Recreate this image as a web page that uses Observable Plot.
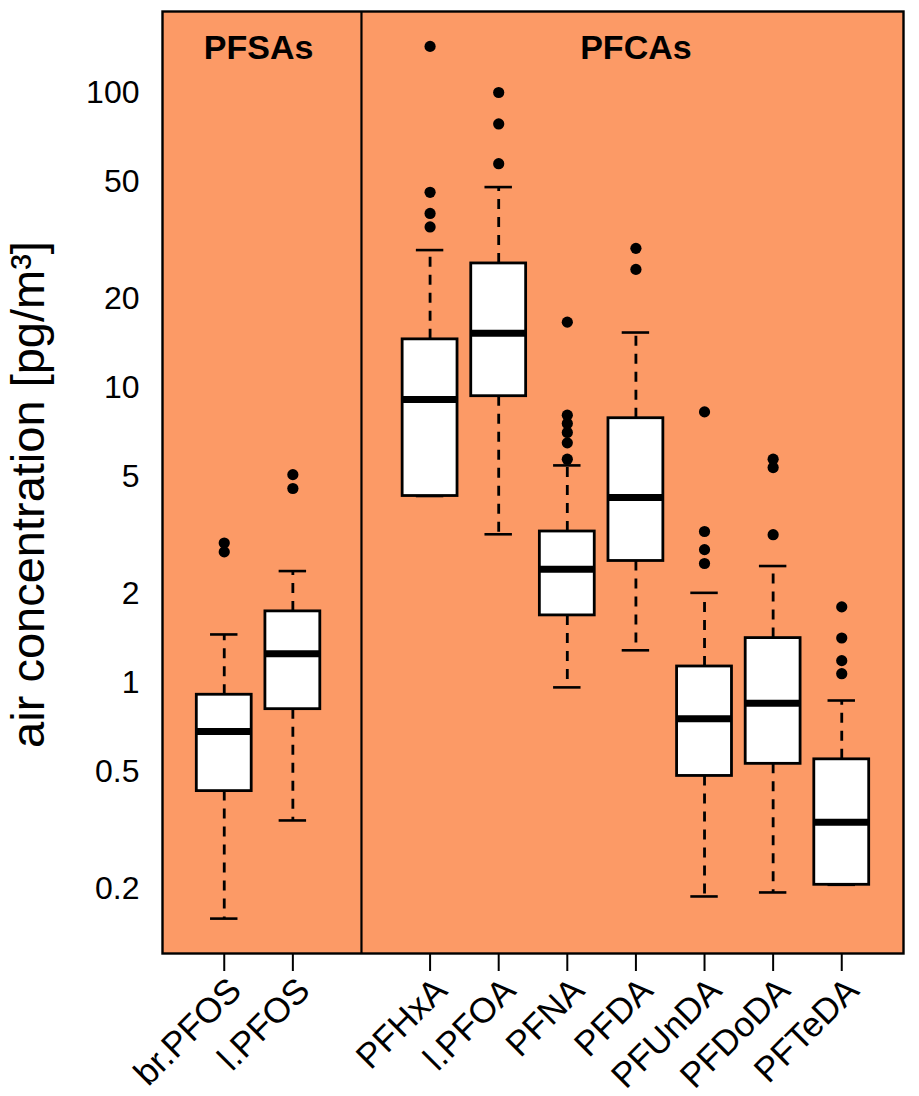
<!DOCTYPE html>
<html>
<head>
<meta charset="utf-8">
<script src="https://cdn.jsdelivr.net/npm/d3@7"></script>
<script src="https://cdn.jsdelivr.net/npm/@observablehq/plot@0.6"></script>
<style>
  html, body { margin: 0; padding: 0; background: white; }
</style>
</head>
<body>
<div id="chart"></div>
<script>
// ---- data ----
const compounds     = ["br.PFOS", "l.PFOS", "PFHxA", "l.PFOA", "PFNA", "PFDA", "PFUnDA", "PFDoDA", "PFTeDA"];
const compoundGroup = ["PFSAs", "PFSAs", "PFCAs", "PFCAs", "PFCAs", "PFCAs", "PFCAs", "PFCAs", "PFCAs"];
const groupNames    = ["PFSAs", "PFCAs"];
const whiskerLow    = [0.159, 0.342, 4.30, 3.19, 0.966, 1.29, 0.189, 0.195, 0.207];
const quart1        = [0.430, 0.815, 4.30, 9.37, 1.694, 2.59, 0.484, 0.532, 0.207];
const medians       = [0.685, 1.256, 9.13, 15.3, 2.43, 4.25, 0.756, 0.854, 0.337];
const quart3        = [0.912, 1.748, 14.6, 26.4, 3.26, 7.89, 1.137, 1.419, 0.551];
const whiskerHigh   = [1.46, 2.394, 29.3, 47.9, 5.46, 15.4, 2.02, 2.49, 0.872];
const outliers      = [
  [2.98, 2.78],
  [5.08, 4.56],
  [143.6, 46.0, 39.0, 35.1],
  [100.2, 78.4, 57.5],
  [16.7, 8.08, 7.57, 7.06, 6.51, 5.73],
  [29.7, 25.2],
  [8.29, 3.26, 2.83, 2.54],
  [5.73, 5.37, 3.18],
  [1.81, 1.42, 1.19, 1.075]
];
const yTicks = [0.2, 0.5, 1, 2, 5, 10, 20, 50, 100];
const yLabel = "air concentration [pg/m³]";

// ---- layout: slots with one empty slot between groups ----
const slot = [];
let s = 0;
compounds.forEach((c, i) => {
  if (i > 0 && compoundGroup[i] !== compoundGroup[i - 1]) s += 1;
  s += 1;
  slot.push(s);
});
const nSlots = s;
const dividers = [];
compounds.forEach((c, i) => {
  if (i > 0 && compoundGroup[i] !== compoundGroup[i - 1]) dividers.push(slot[i] - 1);
});
const groupCenters = groupNames.map(g => ({
  name: g,
  pos: d3.mean(compounds.map((c, i) => compoundGroup[i] === g ? slot[i] : null).filter(v => v != null))
}));

const boxes = compounds.map((c, i) => ({
  name: c, pos: slot[i], lo: whiskerLow[i], q1: quart1[i], med: medians[i], q3: quart3[i], hi: whiskerHigh[i]
}));
const outlierData = compounds.flatMap((c, i) => outliers[i].map(v => ({pos: slot[i], v})));

// R-like 4% axis extension
const allVals = [...whiskerLow, ...whiskerHigh, ...outliers.flat()];
const lmin = Math.log10(d3.min(allVals)), lmax = Math.log10(d3.max(allVals));
const ext = (lmax - lmin) * 0.04;
const yDomain = [Math.pow(10, lmin - ext), Math.pow(10, lmax + ext)];
const xExt = (nSlots) * 0.04;
const xDomain = [0.5 - xExt, nSlots + 0.5 + xExt];

const bw = 0.4;   // half box width
const cw = 0.2;   // half staple width
const fill = "#FC9A66";

const plot = Plot.plot({
  width: 919,
  height: 1096,
  marginLeft: 162,
  marginRight: 16,
  marginTop: 11,
  marginBottom: 143,
  style: {fontFamily: "'Liberation Sans', Arial, sans-serif", background: "white", color: "black"},
  x: {type: "linear", domain: xDomain, axis: null},
  y: {type: "log", domain: yDomain, axis: null},
  marks: [
    Plot.frame({fill: fill, stroke: null}),
    // whiskers
    Plot.ruleX(boxes, {x: "pos", y1: "q3", y2: "hi", stroke: "black", strokeWidth: 2.8, strokeDasharray: "10,8"}),
    Plot.ruleX(boxes, {x: "pos", y1: "q1", y2: "lo", stroke: "black", strokeWidth: 2.8, strokeDasharray: "10,8"}),
    // staples
    Plot.ruleY(boxes, {y: "hi", x1: d => d.pos - cw, x2: d => d.pos + cw, stroke: "black", strokeWidth: 2.6}),
    Plot.ruleY(boxes, {y: "lo", x1: d => d.pos - cw, x2: d => d.pos + cw, stroke: "black", strokeWidth: 2.6}),
    // boxes
    Plot.rect(boxes, {x1: d => d.pos - bw, x2: d => d.pos + bw, y1: "q1", y2: "q3", fill: "white", stroke: "black", strokeWidth: 2.8}),
    // medians
    Plot.ruleY(boxes, {y: "med", x1: d => d.pos - bw, x2: d => d.pos + bw, stroke: "black", strokeWidth: 7}),
    // outliers
    Plot.dot(outlierData, {x: "pos", y: "v", r: 5.6, fill: "black", stroke: null}),
    // divider between groups
    Plot.ruleX(dividers, {x: d => d, stroke: "black", strokeWidth: 2.2}),
    // group labels
    Plot.text(groupCenters, {x: "pos", text: "name", frameAnchor: "top", dy: 37, fontSize: 34, fontWeight: "bold", fill: "black", lineAnchor: "middle"}),
    // frame
    Plot.frame({stroke: "black", strokeWidth: 2.4}),
    // axes
    Plot.axisY(yTicks, {tickSize: 0, tickPadding: 23, tickFormat: d => String(d), fontSize: 32, label: null}),
    Plot.axisX(slot, {tickSize: 18, tickFormat: () => "", strokeWidth: 2, label: null}),
    Plot.text(boxes, {x: "pos", text: "name", frameAnchor: "bottom", rotate: -45, textAnchor: "end", lineAnchor: "middle", dx: 11, dy: 31, fontSize: 35, fill: "black"}),
    Plot.text([yLabel], {text: d => d, frameAnchor: "left", rotate: -90, dx: -134, dy: 12, fontSize: 47, fill: "black", textAnchor: "middle", lineAnchor: "middle"})
  ]
});
document.getElementById("chart").appendChild(plot);
</script>
</body>
</html>
